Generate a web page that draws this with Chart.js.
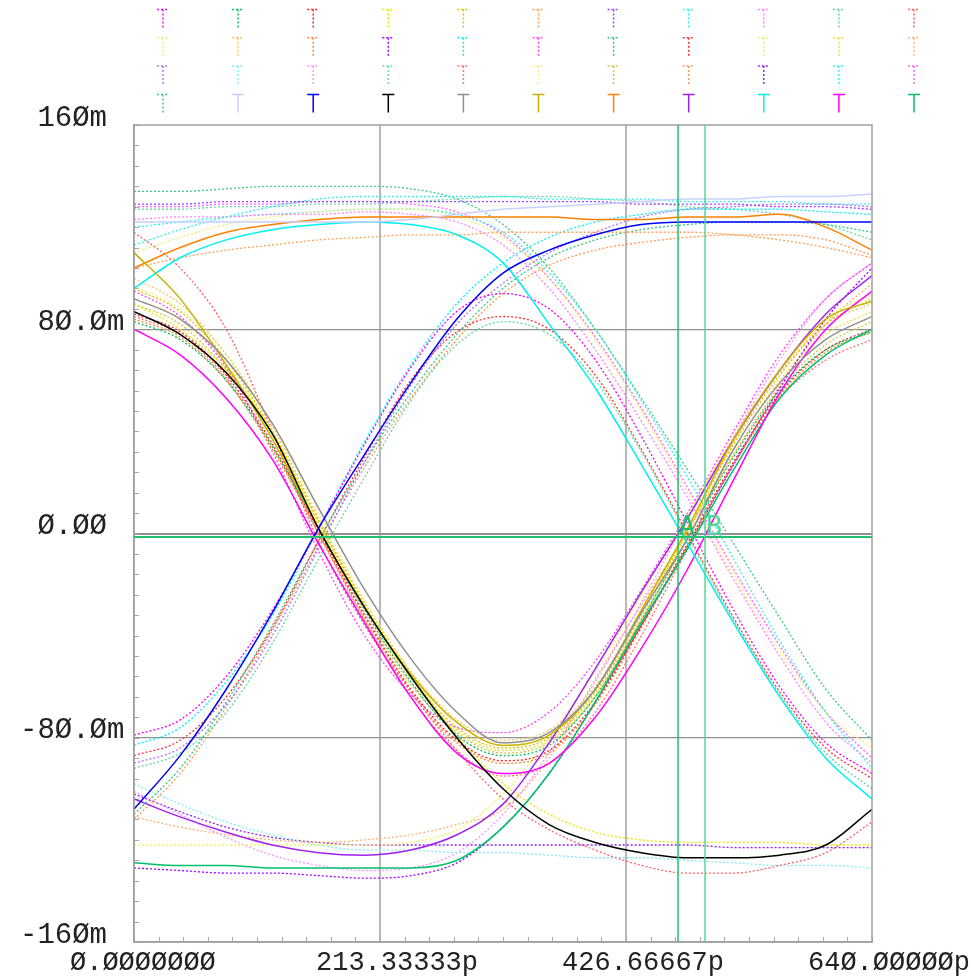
<!DOCTYPE html>
<html><head><meta charset="utf-8">
<script src="https://cdn.jsdelivr.net/npm/chart.js@4.4.0/dist/chart.umd.min.js"></script>
<style>html,body{margin:0;padding:0;background:#fff;overflow:hidden}#wrap{width:971px;height:980px;position:relative}</style>
</head><body><div id="wrap"><canvas id="c" width="971" height="980"></canvas></div>
<script>
// ---------- data (time in ps, voltage in mV) ----------
const TIME_PS = [0,40,80,120,160,200,240,280,320,360,400,440,480,520,560,600,640];
const X_TICKS = [0, 213.33333, 426.66667, 640];
const X_TICK_LABELS = ['Ø.ØØØØØØØ','213.33333p','426.66667p','64Ø.ØØØØØp'];
const Y_TICKS = [-160,-80,0,80,160];
const Y_TICK_LABELS = ['-16Øm','-8Ø.Øm',' Ø.ØØ',' 8Ø.Øm',' 16Øm'];
const CURSOR_X = [471.8, 495.2];
const CURSOR_NAMES = ['A','B'];
const CURSOR_LEVEL = -1.4;

// row 1
const r1_magenta = [-79,-73,-56,-30,2,35,65,87,94,88,68,38,4,-30,-60,-82,-94];
const r1_green   = [83,76,60,34,2,-30,-58,-79,-87,-83,-64,-34,-2,30,56,72,79];
const r1_red     = [86,79,62,35,1,-32,-61,-81,-89,-85,-66,-36,-4,28,55,72,80];
const r1_yellow  = [90,80,64,40,4,-28,-55,-79,-98,-110,-117,-120,-121,-121,-121,-122,-122];
const r1_gold    = [96,87,68,40,5,-28,-56,-76,-84,-80,-62,-32,1,35,62,82,92];
const r1_orange  = [104,108,111,113,115,116,117,117,118,118,118,118,118,117,115,112,108];
const r1_purple  = [129,129,130,130,130,130,130,130,130,130,130,129,129,129,128,128,127];
const r1_cyan    = [113,119,124,128,131,132,132,132,132,131,131,131,130,130,130,129,129];
const r1_pink    = [123,124,124,125,125,126,125,122,113,96,72,44,14,-18,-48,-74,-90];
const r1_lgreen  = [-92,-86,-70,-43,-10,22,52,74,83,78,60,32,-1,-34,-63,-86,-100];
const r1_lred    = [118,104,80,40,-3,-36,-62,-85,-104,-116,-124,-130,-133,-133,-130,-125,-113];
// row 2
const r2_pyellow = [110,116,121,124,126,127,127,124,116,100,76,48,16,-16,-46,-70,-84];
const r2_gold    = [100,90,70,42,6,-27,-54,-73,-81,-77,-60,-30,2,36,63,82,90];
const r2_orange  = [84,77,60,33,0,-33,-62,-82,-90,-86,-67,-37,-5,28,54,71,79];
const r2_purple  = [-131,-132,-133,-133,-134,-135,-134,-129,-115,-94,-66,-36,-5,27,57,84,104];
const r2_cyan    = [-83,-76,-58,-32,2,36,66,90,106,116,122,125,127,127,127,126,125];
const r2_magenta = [95,85,65,32,-7,-40,-63,-76,-78,-70,-50,-22,8,40,70,92,106];
const r2_green   = [-110,-92,-66,-36,-3,28,55,78,96,108,115,119,121,122,122,121,118];
const r2_red     = [-87,-81,-64,-37,-3,30,60,79,85,80,62,33,0,-33,-62,-84,-96];
const r2_lyellow = [-122,-122,-122,-122,-122,-122,-121,-116,-102,-80,-54,-24,7,38,64,84,94];
const r2_yellow  = [92,84,66,39,4,-29,-57,-77,-85,-81,-63,-33,0,33,60,78,87];
const r2_lorange = [-111,-115,-118,-120,-121,-120,-118,-114,-108,-88,-57,-28,1,31,58,82,98];
// row 3
const r3_lavender= [-90,-84,-67,-40,-6,28,58,82,98,110,118,124,127,128,129,129,128];
const r3_pcyan   = [-98,-106,-113,-118,-122,-124,-124,-125,-125,-126,-127,-127,-128,-129,-130,-130,-131];
const r3_pink    = [-101,-110,-119,-126,-130,-132,-131,-125,-110,-86,-58,-27,6,38,68,92,106];
const r3_pgreen  = [127,127,128,128,129,129,130,131,132,132,131,130,128,127,125,121,115];
const r3_lred    = [85,78,61,34,0,-34,-64,-85,-95,-90,-70,-40,-6,27,53,68,76];
const r3_pyellow = [97,88,70,43,8,-26,-54,-74,-83,-79,-61,-31,2,36,64,83,93];
const r3_gold    = [90,82,64,37,2,-31,-59,-78,-86,-82,-64,-34,-2,31,57,74,83];
const r3_orange  = [-112,-94,-68,-38,-5,26,53,76,94,105,111,114,116,117,117,115,109];
const r3_purple  = [-102,-109,-115,-119,-121,-122,-122,-122,-122,-122,-122,-122,-122,-123,-123,-123,-123];
const r3_cyan    = [120,122,124,125,126,127,127,125,118,102,80,52,22,-10,-42,-70,-92];
const r3_magenta = [128,128,129,129,130,130,129,126,117,100,77,49,18,-14,-44,-70,-88];
// row 4
const r4_greenDot= [134,134,135,136,136,136,135,131,121,104,80,53,25,-4,-33,-61,-81];
const r4_lavender= [122,122,122,122,122,122,123,125,127,128,129,130,131,131,132,132,133];
const r4_blue    = [-108,-87,-61,-31,2,31,59,84,102,111,117,121,122,122,122,122,122];
const r4_black   = [87,78,63,39,2,-29,-56,-80,-100,-114,-121,-125,-127,-127,-126,-122,-108];
const r4_gray    = [92,84,68,43,10,-22,-49,-70,-82,-78,-61,-31,-2,33,59,76,85];
const r4_olive   = [110,92,66,37,2,-29,-55,-74,-83,-79,-61,-30,2,37,64,84,91];
const r4_orange  = [104,112,118,121,123,124,124,124,124,124,123,123,124,124,125,120,111];
const r4_purple  = [-104,-111,-117,-122,-125,-126,-124,-118,-106,-82,-53,-23,6,37,64,86,101];
const r4_cyan    = [96,108,115,119,121,122,121,117,106,82,57,27,-4,-35,-64,-88,-104];
const r4_magenta = [80,70,53,29,-4,-35,-64,-86,-94,-90,-72,-45,-14,21,55,80,95];
const r4_green   = [-129,-130,-130,-131,-131,-131,-131,-128,-115,-94,-66,-35,-6,25,53,70,80];

const SERIES = [
  r1_magenta,r1_green,r1_red,r1_yellow,r1_gold,r1_orange,r1_purple,r1_cyan,r1_pink,r1_lgreen,r1_lred,
  r2_pyellow,r2_gold,r2_orange,r2_purple,r2_cyan,r2_magenta,r2_green,r2_red,r2_lyellow,r2_yellow,r2_lorange,
  r3_lavender,r3_pcyan,r3_pink,r3_pgreen,r3_lred,r3_pyellow,r3_gold,r3_orange,r3_purple,r3_cyan,r3_magenta,
  r4_greenDot,r4_lavender,r4_blue,r4_black,r4_gray,r4_olive,r4_orange,r4_purple,r4_cyan,r4_magenta,r4_green
];
const SERIES_COLORS = [
  '#ff00ff','#00c060','#ff2020','#e8e800','#e0c000','#ffa050','#a040ff','#30f0f0','#ff80ff','#60d8a0','#ff6060',
  '#f0f070','#f0c860','#ff8830','#a000ff','#00f0ff','#ff40ff','#30c880','#ff3030','#f0f060','#e8e040','#ffb070',
  '#b070ff','#80f0f0','#ff90ff','#70d8a8','#ff7070','#f0f090','#d8c040','#ff9850','#9020f0','#30f0f0','#ff60ff',
  '#40c888','#c8d0ff','#0000ff','#000000','#909090','#c8b400','#ff8000','#a020f0','#00f0f0','#ff00ff','#00c070'
];
const SERIES_DOTTED = [
  1,1,1,1,1,1,1,1,1,1,1,
  1,1,1,1,1,1,1,1,1,1,1,
  1,1,1,1,1,1,1,1,1,1,1,
  1,0,0,0,0,0,0,0,0,0,0
];
const LEGEND_COLS = 11;
const LABEL_FONT = 'Liberation Mono';
const CURSOR_FONT = 'DejaVu Sans Mono';

// ---------- chart ----------
const datasets = SERIES.map((vals, i) => ({
  label: 'v' + (i + 1),
  data: vals.map((v, k) => ({x: TIME_PS[k], y: v})),
  borderColor: SERIES_COLORS[i],
  borderWidth: SERIES_DOTTED[i] ? 1.3 : 1.5,
  borderDash: SERIES_DOTTED[i] ? [2, 2] : [],
  pointRadius: 0,
  fill: false,
  cubicInterpolationMode: 'monotone',
  order: SERIES_DOTTED[i] ? 1 : 0
}));

const overlay = {
  id: 'overlay',
  beforeDatasetsDraw(chart) {
    const {ctx, chartArea: a, scales: {x, y}} = chart;
    ctx.save();
    ctx.strokeStyle = '#a8a8a8';
    ctx.lineWidth = 1;
    ctx.beginPath();
    for (let v = -160; v <= 160; v += 8) {
      const py = Math.round(y.getPixelForValue(v)) + 0.5;
      ctx.moveTo(a.left, py); ctx.lineTo(a.left + 5, py);
    }
    for (let i = 0; i <= 30; i++) {
      const px = Math.round(x.getPixelForValue(i * 640 / 30)) + 0.5;
      ctx.moveTo(px, a.bottom); ctx.lineTo(px, a.bottom - 5);
    }
    ctx.stroke();
    ctx.restore();
  },
  afterDatasetsDraw(chart) {
    const {ctx, chartArea: a, scales: {x, y}} = chart;
    ctx.save();
    ctx.strokeStyle = '#a0a0a0';
    ctx.lineWidth = 1.5;
    ctx.strokeRect(a.left, a.top, a.right - a.left, a.bottom - a.top);
    const cursorColors = ['#20c070', '#50d898'];
    const yl = y.getPixelForValue(CURSOR_LEVEL);
    ctx.strokeStyle = '#20c070'; ctx.lineWidth = 2;
    ctx.beginPath(); ctx.moveTo(a.left, yl); ctx.lineTo(a.right, yl); ctx.stroke();
    CURSOR_X.forEach((cx, i) => {
      const px = x.getPixelForValue(cx);
      ctx.strokeStyle = cursorColors[i]; ctx.lineWidth = 1.5;
      ctx.beginPath(); ctx.moveTo(px, a.top); ctx.lineTo(px, a.bottom); ctx.stroke();
      ctx.fillStyle = cursorColors[i];
      ctx.font = '27px "' + CURSOR_FONT + '"';
      ctx.textAlign = 'left'; ctx.textBaseline = 'alphabetic';
      ctx.fillText(CURSOR_NAMES[i], px + 1, y.getPixelForValue(0) + 1);
    });
    ctx.restore();
    ctx.save();
    chart.data.datasets.forEach((ds, i) => {
      const col = i % LEGEND_COLS, row = Math.floor(i / LEGEND_COLS);
      const cx = 163 + col * 75.1, top = 9.5 + row * 28.3;
      ctx.strokeStyle = ds.borderColor;
      ctx.lineWidth = 1.5;
      ctx.setLineDash(ds.borderDash);
      ctx.beginPath();
      ctx.moveTo(cx - 6, top); ctx.lineTo(cx + 6, top);
      ctx.moveTo(cx, top); ctx.lineTo(cx, top + 18);
      ctx.stroke();
    });
    ctx.restore();
  }
};

new Chart(document.getElementById('c'), {
  type: 'line',
  data: {datasets},
  options: {
    responsive: false,
    animation: false,
    devicePixelRatio: 1,
    layout: {padding: {left: 20, right: 99, top: 125, bottom: 0}},
    plugins: {legend: {display: false}, tooltip: {enabled: false}, title: {display: false}},
    scales: {
      x: {
        type: 'linear', min: 0, max: 640,
        afterBuildTicks: s => { s.ticks = X_TICKS.map(v => ({value: v})); },
        afterFit: s => { s.height = 38; s.paddingLeft = 0; s.paddingRight = 0; },
        ticks: {
          autoSkip: false, maxRotation: 0, align: 'start', labelOffset: -64, padding: 5,
          color: '#222', font: {family: LABEL_FONT, size: 27},
          callback: (v, i) => X_TICK_LABELS[i]
        },
        grid: {
          color: c => (c.tick && (c.index === 1 || c.index === 2)) ? '#b8b8b8' : 'rgba(0,0,0,0)',
          lineWidth: 2, drawTicks: false
        },
        border: {display: true, color: '#a0a0a0', width: 1.5}
      },
      y: {
        type: 'linear', min: -160, max: 160,
        afterBuildTicks: s => { s.ticks = Y_TICKS.map(v => ({value: v})); },
        afterFit: s => { s.width = 114; s.paddingTop = 0; s.paddingBottom = 0; },
        ticks: {
          autoSkip: false, crossAlign: 'far', labelOffset: -7, padding: 0,
          color: '#222', font: {family: LABEL_FONT, size: 29},
          callback: (v, i) => Y_TICK_LABELS[i]
        },
        grid: {
          color: c => (c.tick && Math.abs(c.tick.value) < 159) ? '#909090' : 'rgba(0,0,0,0)',
          lineWidth: c => (c.tick && c.tick.value === 0) ? 2 : 1.2, drawTicks: false
        },
        border: {display: true, color: '#a0a0a0', width: 1.5}
      }
    }
  },
  plugins: [overlay]
});
</script>
</body></html>
